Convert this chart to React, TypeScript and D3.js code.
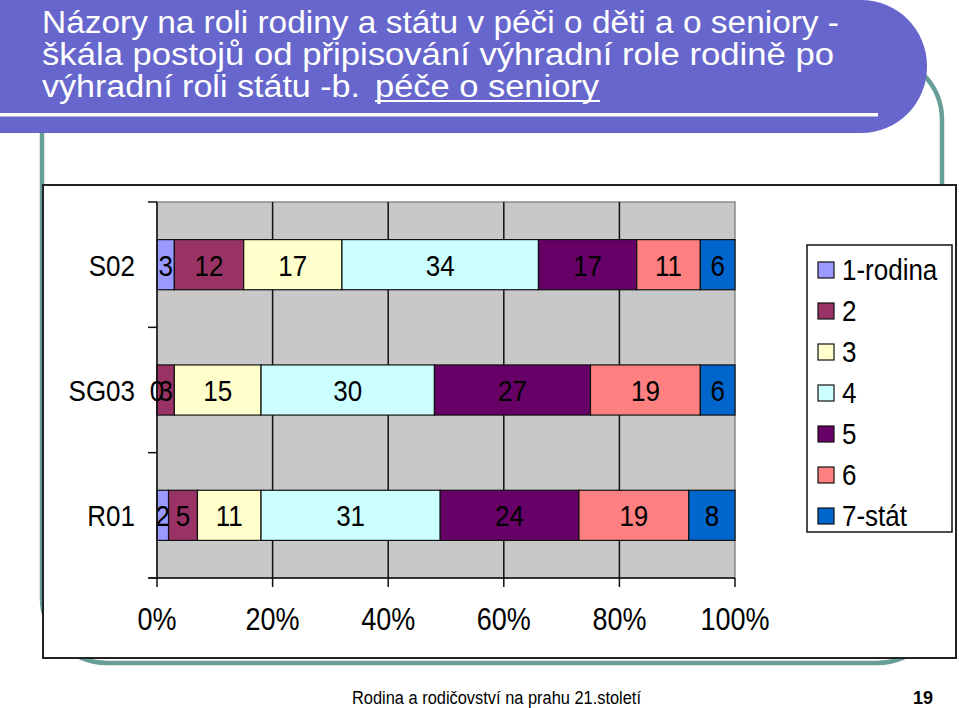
import React from "react";
import * as d3 from "d3";

const categories = ["S02", "SG03", "R01"];
const seriesNames = ["1-rodina", "2", "3", "4", "5", "6", "7-stát"];
const rodina1 = [3, 0, 2];
const level2 = [12, 3, 5];
const level3 = [17, 15, 11];
const level4 = [34, 30, 31];
const level5 = [17, 27, 24];
const level6 = [11, 19, 19];
const stat7 = [6, 6, 8];
const seriesColors = ["#9999FF", "#993366", "#FFFFCC", "#CCFFFF", "#660066", "#FF8080", "#0066CC"];
const xTicks = [0, 0.2, 0.4, 0.6, 0.8, 1];

const titleLine1 = "Názory na roli rodiny a státu v péči o děti a o seniory -";
const titleLine2 = "škála postojů od připisování výhradní role rodině po";
const titleLine3a = "výhradní roli státu -b.";
const titleLine3b = "péče o seniory";
const footerText = "Rodina a rodičovství na prahu 21.století";
const pageNumber = "19";

const FONT = "'Liberation Sans', Arial, sans-serif";
const SY = 1.14;

function T(props: { x: number; y: number; anchor?: string; size: number; children: any; weight?: string }) {
  return (
    <text
      transform={`translate(${props.x},${props.y}) scale(1,${SY})`}
      textAnchor={props.anchor || "start"}
      fontFamily={FONT}
      fontSize={props.size}
      fontWeight={props.weight || "normal"}
      fill="#000"
    >
      {props.children}
    </text>
  );
}

export default function App() {
  const allSeries = [rodina1, level2, level3, level4, level5, level6, stat7];
  const table = categories.map((c, i) => {
    const row: any = { cat: c };
    seriesNames.forEach((s, j) => (row[s] = allSeries[j][i]));
    return row;
  });
  const stacked = d3.stack<any>().keys(seriesNames).offset(d3.stackOffsetExpand)(table);

  const left = 157, right = 735, top = 202, bottom = 578;
  const x = d3.scaleLinear().domain([0, 1]).range([left, right]);
  const y = d3.scaleBand<string>().domain(categories).range([top, bottom]).padding(0);
  const bw = y.bandwidth();
  const barH = bw * 0.4;
  const boundaries = d3.range(categories.length + 1).map((i) => top + i * bw);
  const fmt = d3.format(".0%");
  const teal = "#679E98";

  return (
    <div style={{ position: "fixed", left: 0, top: 0 }}>
      <svg width={959} height={708} style={{ display: "block", background: "#fff" }}>
        {/* template frame */}
        <rect x={42} y={55} width={900} height={608} rx={65} ry={65} fill="none" stroke={teal} strokeWidth={4.5} />
        {/* title banner */}
        <rect x={-120} y={0} width={1047} height={133} rx={66} ry={66} fill="#6666CC" />
        <rect x={-10} y={113} width={888} height={3.5} fill="#fff" />
        <g fontFamily={FONT} fill="#fff" fontSize={31}>
          <text x={42} y={33} textLength={797} lengthAdjust="spacingAndGlyphs">{titleLine1}</text>
          <text x={42} y={65} textLength={792} lengthAdjust="spacingAndGlyphs">{titleLine2}</text>
          <text x={42} y={97} textLength={318} lengthAdjust="spacingAndGlyphs">{titleLine3a}</text>
          <text x={375} y={97} textLength={224} lengthAdjust="spacingAndGlyphs">{titleLine3b}</text>
        </g>
        <rect x={375} y={100} width={225} height={2} fill="#fff" />

        {/* chart box */}
        <rect x={43} y={185} width={913} height={473} fill="#fff" stroke="#222" strokeWidth={2} />

        {/* plot area */}
        <rect x={left} y={top} width={right - left} height={bottom - top} fill="#C8C8C8" stroke="#8a8a8a" strokeWidth={1.5} />
        {xTicks.slice(1, -1).map((t) => (
          <line key={t} x1={x(t)} x2={x(t)} y1={top} y2={bottom} stroke="#111" strokeWidth={1.5} />
        ))}

        {/* bars */}
        {stacked.map((s, j) => (
          <g key={s.key}>
            {s.map((d, i) => (
              <rect
                key={i}
                x={x(d[0])}
                y={(y(categories[i]) as number) + (bw - barH) / 2}
                width={x(d[1]) - x(d[0])}
                height={barH}
                fill={seriesColors[j]}
                stroke="#111"
                strokeWidth={1.2}
              />
            ))}
          </g>
        ))}
        {/* data labels */}
        {stacked.map((s, j) =>
          s.map((d, i) => (
            <T key={s.key + i} x={(x(d[0]) + x(d[1])) / 2} y={(y(categories[i]) as number) + bw / 2 + 11} anchor="middle" size={26}>
              {allSeries[j][i]}
            </T>
          ))
        )}

        {/* axes */}
        <line x1={left} x2={left} y1={top} y2={bottom} stroke="#111" strokeWidth={1.5} />
        <line x1={left - 8} x2={right} y1={bottom} y2={bottom} stroke="#111" strokeWidth={1.5} />
        {boundaries.map((b, i) => (
          <line key={i} x1={left - 9} x2={left} y1={b} y2={b} stroke="#111" strokeWidth={1.5} />
        ))}
        {xTicks.map((t) => (
          <line key={t} x1={x(t)} x2={x(t)} y1={bottom} y2={bottom + 9} stroke="#111" strokeWidth={1.5} />
        ))}
        {xTicks.map((t) => (
          <T key={t} x={x(t)} y={630} anchor="middle" size={27}>{fmt(t)}</T>
        ))}
        {categories.map((c) => (
          <T key={c} x={135} y={(y(c) as number) + bw / 2 + 11} anchor="end" size={26}>{c}</T>
        ))}

        {/* legend */}
        <rect x={807} y={245} width={145} height={287} fill="#fff" stroke="#111" strokeWidth={1.5} />
        {seriesNames.map((s, j) => (
          <g key={s}>
            <rect x={818} y={262 + j * 41} width={16} height={16} fill={seriesColors[j]} stroke="#111" strokeWidth={1.2} />
            <T x={842} y={280 + j * 41} size={26}>{s}</T>
          </g>
        ))}

        {/* footer */}
        <text x={352} y={704} fontFamily={FONT} fontSize={18} fill="#000" textLength={289} lengthAdjust="spacingAndGlyphs">{footerText}</text>
        <text x={933} y={704} fontFamily={FONT} fontSize={18} fontWeight="bold" fill="#000" textAnchor="end">{pageNumber}</text>
      </svg>
    </div>
  );
}
